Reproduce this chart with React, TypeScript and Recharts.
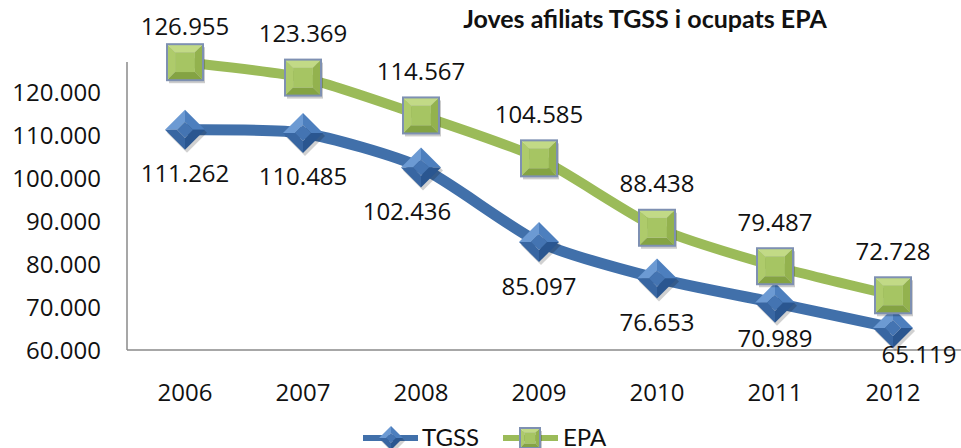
import React from "react";
import { LineChart, Line, XAxis, YAxis, LabelList } from "recharts";

const years = ["2006", "2007", "2008", "2009", "2010", "2011", "2012"];
const tgss = [111262, 110485, 102436, 85097, 76653, 70989, 65119];
const epa = [126955, 123369, 114567, 104585, 88438, 79487, 72728];
const yTicks = [60000, 70000, 80000, 90000, 100000, 110000, 120000];

const data = years.map((year, i) => ({ year, TGSS: tgss[i], EPA: epa[i] }));

// small nudges where the labels were moved to avoid overlaps
const tgssShift = [[0, 0], [0, 0], [-14, 0], [0, 0], [0, 0], [0, -8], [26, -17]];
const epaShift = [[0, 8], [0, 0], [0, 0], [0, 0], [0, 0], [0, 0], [0, 0]];

const FONT = "'Open Sans', sans-serif";
const BLUE = "#4170AA";
const GREEN = "#9BBB59";

const fmt = (v: number) => String(v).replace(/\B(?=(\d{3})+(?!\d))/g, ".");

// Excel-like smoothing (catmull-rom with softer handles)
const SMOOTH = 1 / 9;
const excelCurve = (ctx: any) => {
	let pts: number[][] = [];
	return {
		areaStart() {},
		areaEnd() {},
		lineStart() {
			pts = [];
		},
		point(x: number, y: number) {
			pts.push([+x, +y]);
		},
		lineEnd() {
			if (!pts.length) return;
			ctx.moveTo(pts[0][0], pts[0][1]);
			for (let i = 0; i < pts.length - 1; i++) {
				const p0 = pts[i - 1] || pts[i];
				const p1 = pts[i];
				const p2 = pts[i + 1];
				const p3 = pts[i + 2] || p2;
				ctx.bezierCurveTo(
					p1[0] + (p2[0] - p0[0]) * SMOOTH,
					p1[1] + (p2[1] - p0[1]) * SMOOTH,
					p2[0] - (p3[0] - p1[0]) * SMOOTH,
					p2[1] - (p3[1] - p1[1]) * SMOOTH,
					p2[0],
					p2[1]
				);
			}
		},
	};
};

const Diamond = ({ cx, cy, size = 20 }: any) => {
	if (cx == null || cy == null) return null;
	const r = size;
	const i = r * 0.4;
	const T = `${cx},${cy - r}`, R = `${cx + r},${cy}`, B = `${cx},${cy + r}`, L = `${cx - r},${cy}`;
	const t = `${cx},${cy - i}`, rr = `${cx + i},${cy}`, b = `${cx},${cy + i}`, l = `${cx - i},${cy}`;
	return (
		<g>
			<polygon points={`${T} ${R} ${B} ${L}`} transform="translate(2,3)" fill="#000" opacity={0.18} />
			<polygon points={`${L} ${T} ${t} ${l}`} fill="#6C9AD3" />
			<polygon points={`${T} ${R} ${rr} ${t}`} fill="#4D7FBE" />
			<polygon points={`${R} ${B} ${b} ${rr}`} fill="#2A5690" />
			<polygon points={`${B} ${L} ${l} ${b}`} fill="#3866A2" />
			<polygon points={`${t} ${rr} ${b} ${l}`} fill="#4474B2" />
		</g>
	);
};

const Square = ({ cx, cy, size = 18 }: any) => {
	if (cx == null || cy == null) return null;
	const r = size;
	const i = r * 0.55;
	const x0 = cx - r, x1 = cx + r, y0 = cy - r, y1 = cy + r;
	const a0 = cx - i, a1 = cx + i, b0 = cy - i, b1 = cy + i;
	return (
		<g>
			<rect x={x0 + 2} y={y0 + 3} width={2 * r} height={2 * r} fill="#000" opacity={0.2} />
			<polygon points={`${x0},${y0} ${x1},${y0} ${a1},${b0} ${a0},${b0}`} fill="#C2DA86" />
			<polygon points={`${x0},${y0} ${a0},${b0} ${a0},${b1} ${x0},${y1}`} fill="#AECB6B" />
			<polygon points={`${x1},${y0} ${x1},${y1} ${a1},${b1} ${a1},${b0}`} fill="#93B24E" />
			<polygon points={`${x0},${y1} ${a0},${b1} ${a1},${b1} ${x1},${y1}`} fill="#84A343" />
			<rect x={a0} y={b0} width={2 * i} height={2 * i} fill="#A6C563" />
			<rect x={x0} y={y0} width={2 * r} height={2 * r} fill="none" stroke="#7E90B2" strokeWidth={2} />
		</g>
	);
};

const makeLabel = (shift: number[][], off: number) => (props: any) => {
	const { x, y, value, index } = props;
	const [dx, dy] = shift[index] || [0, 0];
	return (
		<text
			x={x + dx}
			y={y + off + dy + 8.5}
			textAnchor='middle'
			fontFamily={FONT}
			fontSize={24}
			fill='#111'>
			{fmt(value)}
		</text>
	);
};

const Overlay = () => (
	<svg
		width={961}
		height={448}
		style={{ position: "absolute", left: 0, top: 0, pointerEvents: "none" }}>
		<text x={645} y={28} textAnchor='middle' fontFamily='Lato, sans-serif' fontWeight={700} fontSize={25} fill='#111'>
			Joves afiliats TGSS i ocupats EPA
		</text>
		<line x1={363} y1={438} x2={418} y2={438} stroke={BLUE} strokeWidth={6} />
		<Diamond cx={391} cy={438} size={12} />
		<text x={422} y={446} fontFamily='Lato, sans-serif' fontSize={24} fill='#111'>
			TGSS
		</text>
		<line x1={503} y1={438} x2={558} y2={438} stroke={GREEN} strokeWidth={6} />
		<Square cx={530} cy={438} size={10} />
		<text x={563} y={446} fontFamily='Lato, sans-serif' fontSize={24} fill='#111'>
			EPA
		</text>
	</svg>
);

export default function App() {
	return (
		<div style={{ position: "absolute", left: 0, top: 0, width: 961, height: 448, background: "#fff" }}>
			<LineChart
				width={961}
				height={448}
				data={data}
				margin={{ top: 62, right: 0, left: 0, bottom: 0 }}>
				<XAxis
					dataKey='year'
					height={98}
					padding={{ left: 58, right: 68 }}
					tickLine={false}
					tickSize={0}
					tickMargin={34}
					axisLine={{ stroke: "#8A8A8A", strokeWidth: 1.5 }}
					tick={{ fontFamily: FONT, fontSize: 24, fill: "#111" }}
				/>
				<YAxis
					width={127}
					domain={[60000, 127000]}
					ticks={yTicks}
					tickFormatter={fmt}
					tickLine={false}
					tickSize={0}
					tickMargin={26}
					axisLine={{ stroke: "#8A8A8A", strokeWidth: 1.5 }}
					tick={{ fontFamily: FONT, fontSize: 24, fill: "#111" }}
				/>
				<Line
					dataKey='TGSS'
					type={excelCurve as any}
					stroke={BLUE}
					strokeWidth={11}
					dot={<Diamond size={20} />}
					activeDot={false}
					isAnimationActive={false}>
					<LabelList dataKey='TGSS' content={makeLabel(tgssShift, 44)} />
				</Line>
				<Line
					dataKey='EPA'
					type={excelCurve as any}
					stroke={GREEN}
					strokeWidth={10}
					dot={<Square size={18} />}
					activeDot={false}
					isAnimationActive={false}>
					<LabelList dataKey='EPA' content={makeLabel(epaShift, -44)} />
				</Line>
			</LineChart>
			<Overlay />
		</div>
	);
}
